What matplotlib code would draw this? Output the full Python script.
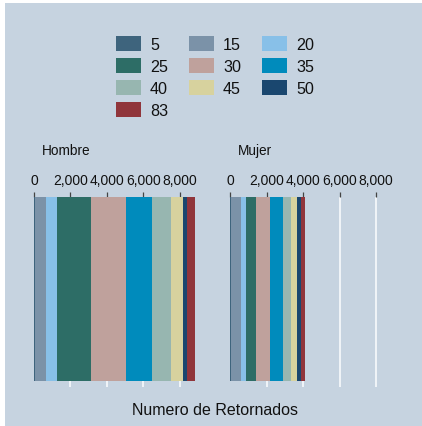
import matplotlib
matplotlib.use("Agg")
import matplotlib.pyplot as plt
from matplotlib.patches import Rectangle

plt.rcParams['font.family'] = ['Liberation Sans', 'DejaVu Sans']

categories = ['5', '15', '20', '25', '30', '35', '40', '45', '50', '83']
colors = ['#3e647d', '#7b92a8', '#88c0e8', '#2d6d66', '#bfa19c',
          '#008bbc', '#97b6b0', '#d7d29e', '#1a476f', '#90353b']
hombre = [40, 620, 600, 1860, 1920, 1425, 1040, 660, 250, 410]
mujer = [20, 570, 275, 550, 770, 715, 455, 315, 220, 220]
panels = ['Hombre', 'Mujer']
ticks = [0, 2000, 4000, 6000, 8000]
tick_labels = ['0', '2,000', '4,000', '6,000', '8,000']
xtitle = 'Numero de Retornados'

W, H = 422, 427
bg = '#c6d3e0'
fig = plt.figure(figsize=(W / 100, H / 100), dpi=100)
fig.patch.set_facecolor('white')
fig.add_artist(Rectangle((5 / W, 0), 1 - 5 / W, 1 - 4 / H, transform=fig.transFigure,
                         facecolor=bg, edgecolor='none', zorder=-10))

xmax = max(sum(hombre), sum(mujer))
scale = 36.45 / 2000  # px per unit
width_px = xmax * scale
lefts_px = [34, 230.3]
top_px, bot_px = 198, 388

for name, vals, lpx in zip(panels, [hombre, mujer], lefts_px):
    ax = fig.add_axes([lpx / W, 1 - bot_px / H, width_px / W, (bot_px - top_px) / H])
    ax.set_facecolor('none')
    for s in ax.spines.values():
        s.set_visible(False)
    for t in ticks[1:]:
        ax.axvline(t, color='#f4f7fa', lw=1.3, zorder=0)
    left = 0
    for v, c in zip(vals, colors):
        ax.barh(0, v, left=left, height=1, color=c, edgecolor='none', zorder=2)
        left += v
    ax.set_xlim(0, xmax)
    ax.set_ylim(-0.5 - 6 / 184, 0.5)
    ax.set_yticks([])
    ax.xaxis.tick_top()
    ax.set_xticks(ticks)
    ax.set_xticklabels(tick_labels, fontsize=10)
    ax.tick_params(axis='x', direction='out', length=3.5, width=0.9, color='#444444',
                   pad=3.8, labelcolor='#111111')
    fig.text((lpx + 7.7) / W, 1 - 151 / H, name, fontsize=9.8, ha='left', va='center',
             color='#111111')

# legend
col_x = [116, 189, 262]
row_y = [37.3, 59.3, 81.3, 103.3]
for i, (cat, c) in enumerate(zip(categories, colors)):
    r, k = divmod(i, 3)
    x0 = col_x[k]
    y0 = row_y[r]
    fig.add_artist(Rectangle((x0 / W, 1 - (y0 + 15) / H), 24.7 / W, 15 / H,
                             transform=fig.transFigure, facecolor=c, edgecolor='none'))
    fig.text((x0 + 34) / W, 1 - (y0 + 7.8) / H, cat, fontsize=11.6, ha='left',
             va='center', color='#111111')

fig.text(215 / W, 1 - 411 / H, xtitle, fontsize=11.5, ha='center', va='center',
         color='#111111')

fig.savefig('out.png', dpi=100, facecolor=fig.get_facecolor())
